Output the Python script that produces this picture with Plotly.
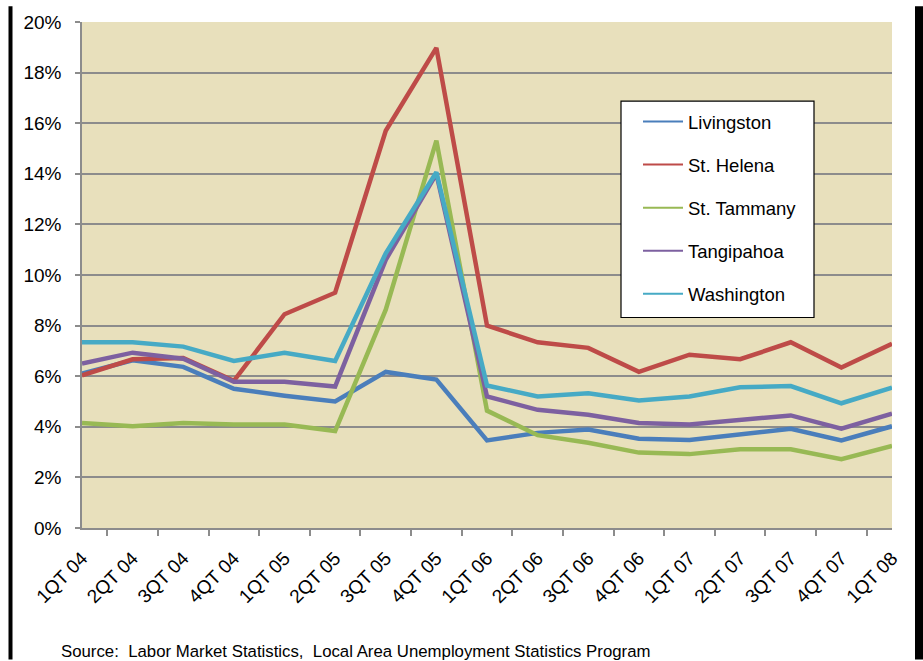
import plotly.graph_objects as go

quarters = ["1QT 04", "2QT 04", "3QT 04", "4QT 04", "1QT 05", "2QT 05", "3QT 05", "4QT 05",
            "1QT 06", "2QT 06", "3QT 06", "4QT 06", "1QT 07", "2QT 07", "3QT 07", "4QT 07", "1QT 08"]

livingston = [6.1, 6.63, 6.37, 5.5, 5.23, 5.0, 6.17, 5.87, 3.46, 3.76, 3.89, 3.53, 3.48, 3.72, 3.92, 3.46, 4.02]
st_helena = [6.03, 6.67, 6.72, 5.82, 8.45, 9.3, 15.7, 18.98, 8.0, 7.34, 7.12, 6.17, 6.85, 6.67, 7.34, 6.34, 7.28]
st_tammany = [4.15, 4.02, 4.15, 4.09, 4.09, 3.83, 8.63, 15.31, 4.64, 3.67, 3.37, 2.98, 2.92, 3.11, 3.11, 2.72, 3.24]
tangipahoa = [6.5, 6.93, 6.69, 5.78, 5.78, 5.59, 10.6, 14.0, 5.2, 4.67, 4.48, 4.15, 4.09, 4.28, 4.45, 3.93, 4.52]
washington = [7.34, 7.34, 7.17, 6.6, 6.93, 6.6, 10.86, 14.06, 5.63, 5.2, 5.33, 5.04, 5.2, 5.56, 5.61, 4.93, 5.55]

series = [
    ("Livingston", livingston, "#4A7EBB"),
    ("St. Helena", st_helena, "#BE4B48"),
    ("St. Tammany", st_tammany, "#98B954"),
    ("Tangipahoa", tangipahoa, "#7D60A0"),
    ("Washington", washington, "#46AAC5"),
]

FONT = "Liberation Sans, Arial, sans-serif"

fig = go.Figure()
for name, vals, color in series:
    fig.add_trace(go.Scatter(x=quarters, y=vals, mode="lines", name=name,
                             line=dict(color=color, width=4.5), showlegend=False,
                             hoverinfo="x+y+name"))
for i, (name, vals, color) in enumerate(series):
    fig.add_trace(go.Scatter(x=[None], y=[None], mode="lines", name=name,
                             line=dict(color=color, width=2), showlegend=True,
                             legendgroup="g%d" % i))

W, H = 923, 661
L, R, T, B = 82, 31, 16, 133
pw, ph = W - L - R, H - T - B

def px_x(x):
    return (x - L) / pw

def px_y(y):
    return (H - B - y) / ph

shapes = [
    dict(type="rect", xref="paper", yref="paper",
         x0=px_x(621), x1=px_x(814), y0=px_y(315), y1=px_y(96),
         line=dict(color="black", width=1.2), fillcolor="white", layer="above"),
    dict(type="rect", xref="paper", yref="paper",
         x0=px_x(8.5), x1=px_x(12.5), y0=px_y(H), y1=px_y(0),
         line=dict(width=0), fillcolor="black"),
    dict(type="rect", xref="paper", yref="paper",
         x0=px_x(915), x1=px_x(923), y0=px_y(H), y1=px_y(0),
         line=dict(width=0), fillcolor="black"),
]

fig.update_layout(
    width=W, height=H,
    margin=dict(l=L, r=R, t=T, b=B, pad=0),
    paper_bgcolor="white",
    plot_bgcolor="#E8E0BC",
    font=dict(family=FONT, size=19, color="black"),
    showlegend=True,
    legend=dict(x=px_x(638), y=px_y(98), xanchor="left", yanchor="top",
                bgcolor="rgba(0,0,0,0)", borderwidth=0,
                font=dict(family=FONT, size=18.5, color="black"),
                tracegroupgap=16, itemwidth=40),
    shapes=shapes,
    annotations=[dict(text="Source:  Labor Market Statistics,  Local Area Unemployment Statistics Program",
                      xref="paper", yref="paper", x=px_x(59), y=px_y(653),
                      xanchor="left", yanchor="middle", showarrow=False,
                      font=dict(family=FONT, size=16.8, color="black"))],
)

fig.update_xaxes(type="category", tickson="boundaries", ticks="outside", ticklen=6,
                 tickcolor="#8C8C8C", tickwidth=1.5, showline=True, linecolor="#8C8C8C",
                 linewidth=1.5, showgrid=False, tickangle=-45, ticklabelstandoff=10,
                 tickfont=dict(family=FONT, size=19, color="black"))
fig.update_yaxes(range=[0, 20], dtick=2, ticksuffix="%", ticks="outside", ticklen=5,
                 tickcolor="#8C8C8C", tickwidth=1.5, showline=True, linecolor="#8C8C8C",
                 linewidth=1.5, showgrid=True, gridcolor="#8C8C8C", gridwidth=1.5,
                 zeroline=False, ticklabelstandoff=10,
                 tickfont=dict(family=FONT, size=19, color="black"))

fig.write_html("out.html", config={"displayModeBar": False},
               post_script="document.body.style.margin='0';document.body.style.overflow='hidden';")
